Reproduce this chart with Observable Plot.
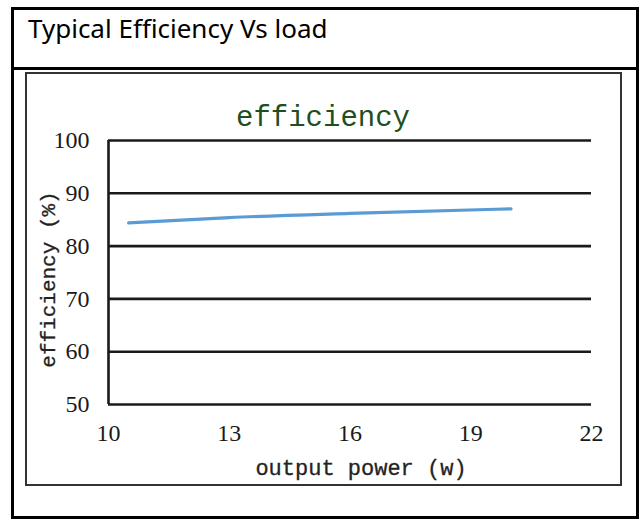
<!DOCTYPE html>
<html>
<head>
<meta charset="utf-8">
<script src="https://cdn.jsdelivr.net/npm/d3@7"></script>
<script src="https://cdn.jsdelivr.net/npm/@observablehq/plot@0.6"></script>
<style>
  html, body { margin: 0; padding: 0; background: #fff; }
  #wrap { position: relative; width: 643px; height: 521px; overflow: hidden; }
  #outer { position: absolute; left: 11px; top: 7px; width: 622px; height: 506px; border: 3px solid #000; }
  #sep { position: absolute; left: 11px; top: 67px; width: 628px; height: 3px; background: #000; }
  #inner { position: absolute; left: 25px; top: 72px; width: 593px; height: 410px; border: 2px solid #333; }
  #title { position: absolute; left: 28px; top: 15px; line-height: 1; font-family: "Noto Sans", "Open Sans", sans-serif; font-size: 26px; color: #000; }
  #chart { position: absolute; left: 0; top: 0; }
</style>
</head>
<body>
<div id="wrap">
  <div id="outer"></div>
  <div id="sep"></div>
  <div id="inner"></div>
  <div id="title">Typical Efficiency Vs load</div>
  <div id="chart"></div>
</div>
<script>
const power = [10.5, 13, 16, 20];
const efficiency = [84.4, 85.4, 86.2, 87.05];
const xTicks = [10, 13, 16, 19, 22];
const yTicks = [50, 60, 70, 80, 90, 100];
const chartTitle = "efficiency";
const xLabel = "output power (w)";
const yLabel = "efficiency (%)";

const data = power.map((p, i) => ({power: p, eff: efficiency[i]}));

const tickFont = {fontFamily: "Liberation Serif, serif", fontSize: 24, fill: "#1a1a1a", stroke: "#1a1a1a", strokeWidth: 0.6};

const plot = Plot.plot({
  width: 643,
  height: 521,
  marginLeft: 108,
  marginRight: 52,
  marginTop: 140,
  marginBottom: 117,
  style: {background: "transparent", color: "#1a1a1a"},
  x: {domain: [10, 22]},
  y: {domain: [50, 100]},
  marks: [
    Plot.ruleY(yTicks, {stroke: "#1a1a1a", strokeWidth: 2.6}),
    Plot.ruleX([10], {y1: 50, y2: 100, stroke: "#1a1a1a", strokeWidth: 2.6}),
    Plot.axisX({ticks: xTicks, tickSize: 0, tickPadding: 19, label: null, ...tickFont}),
    Plot.axisY({ticks: yTicks, tickSize: 0, tickPadding: 19, label: null, ...tickFont}),
    Plot.line(data, {x: "power", y: "eff", stroke: "#5b9bd5", strokeWidth: 3.2, curve: "monotone-x"}),
    Plot.text([chartTitle], {frameAnchor: "top", dx: -27, dy: -24, lineAnchor: "middle",
      fontFamily: "Liberation Mono, monospace", fontSize: 29, fill: "#1f4f1f"}),
    Plot.text([xLabel], {frameAnchor: "bottom", dx: 11, dy: 63, lineAnchor: "middle",
      fontFamily: "Liberation Mono, monospace", fontSize: 22, fill: "#222", stroke: "#222", strokeWidth: 0.3}),
    Plot.text([yLabel], {frameAnchor: "left", dx: -60, dy: 7, rotate: -90, textAnchor: "middle", lineAnchor: "middle",
      fontFamily: "Liberation Mono, monospace", fontSize: 21, fill: "#222", stroke: "#222", strokeWidth: 0.3})
  ]
});
document.getElementById("chart").appendChild(plot);
</script>
</body>
</html>
